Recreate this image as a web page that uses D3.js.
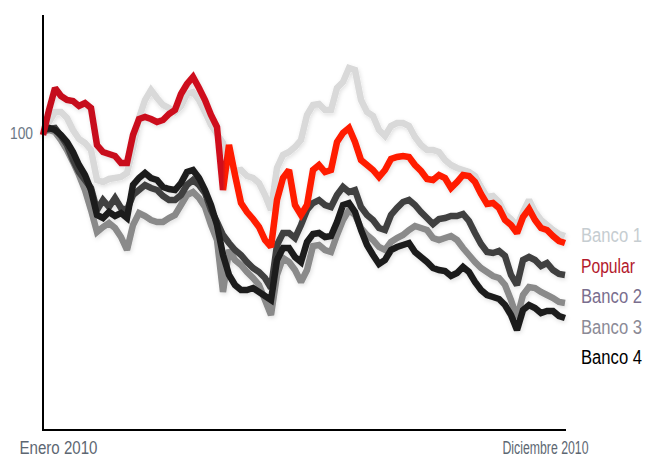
<!DOCTYPE html>
<html>
<head>
<meta charset="utf-8">
<script src="https://cdn.jsdelivr.net/npm/d3@7"></script>
<style>
  html, body { margin: 0; padding: 0; background: #fff; }
  svg { display: block; }
  .lbl { font-family: "Liberation Sans", Arial, sans-serif; }
</style>
</head>
<body>
<svg id="chart" width="646" height="459"></svg>
<script>
// ---- data (index relative to 100 at start of 2010), sampled through the year ----
const xLabels = ["Enero 2010", "Diciembre 2010"];
const yTicks = [100];
const seriesNames = ["Banco 1", "Popular", "Banco 2", "Banco 3", "Banco 4"];

const banco1 = [99.6,102.2,104.2,104.2,103.0,100.6,98.8,98.0,96.6,90.6,90.2,90.8,91.0,91.2,92.0,97.0,103.0,106.6,108.6,107.0,105.6,105.0,104.2,105.4,107.8,108.2,106.6,104.2,101.6,99.8,98.0,94.0,92.4,92.6,91.4,91.0,90.0,87.6,84.6,93.0,95.6,96.2,97.2,98.6,103.6,105.6,105.8,104.6,104.6,109.0,110.2,113.0,112.6,106.6,104.2,103.4,100.6,99.4,101.4,102.0,102.0,101.4,99.2,97.6,96.6,96.6,96.2,94.6,93.6,93.0,92.6,92.2,91.4,89.2,87.2,87.4,86.2,83.8,82.8,81.4,84.2,86.6,84.2,82.6,81.6,80.6,79.8,79.4];

const popular = [99.6,104.6,109.0,107.4,106.6,106.4,105.4,106.0,105.0,97.6,96.2,95.8,95.4,94.0,94.0,99.6,102.8,103.2,102.8,102.2,102.6,103.8,104.6,107.8,109.8,111.2,109.0,106.6,103.6,101.2,88.6,97.6,91.6,86.0,84.2,82.8,81.2,78.6,77.2,86.6,91.0,92.6,85.6,83.6,85.6,92.6,93.6,92.2,92.6,98.2,100.0,101.0,98.2,94.6,93.6,92.6,91.2,92.6,94.8,95.2,95.4,95.2,93.6,92.4,90.8,90.6,91.6,91.0,89.0,90.2,91.6,91.4,90.2,87.8,85.8,86.0,85.0,82.6,81.6,80.0,83.2,84.8,82.6,81.0,80.6,79.4,78.4,78.0];

const banco2 = [100.6,100.8,101.0,99.4,97.6,94.6,92.2,90.6,89.0,84.6,86.6,85.2,87.0,85.0,84.6,87.6,88.6,89.6,89.0,88.6,87.4,86.6,86.6,87.6,89.6,90.6,89.6,88.0,84.6,82.2,79.6,78.0,76.6,75.6,74.2,73.0,72.2,71.0,69.0,77.6,80.0,80.0,79.0,81.6,84.6,86.0,86.6,85.6,85.2,87.6,89.2,88.2,88.6,85.2,83.6,82.6,81.0,80.6,83.6,85.0,86.2,86.6,85.6,84.2,83.0,81.8,82.8,83.0,83.4,83.4,83.8,82.4,80.0,77.8,76.2,76.0,76.4,75.4,71.6,69.6,74.6,75.2,74.6,73.4,74.0,72.6,71.8,71.6];

const banco3 = [100.2,100.6,100.2,98.6,96.6,94.2,91.6,88.6,84.6,80.2,81.2,82.0,81.0,79.2,76.6,81.6,84.0,83.4,82.6,82.2,82.2,83.0,83.6,85.6,87.6,88.2,87.0,85.2,81.6,78.6,68.2,76.6,74.6,73.6,72.2,71.0,69.6,66.6,63.6,71.6,75.0,74.2,72.6,70.2,72.6,77.4,77.6,76.6,76.2,79.6,82.6,84.6,83.6,81.0,79.6,78.6,77.2,76.6,78.2,79.0,79.6,80.6,81.4,81.0,80.6,79.0,78.6,79.0,79.4,78.6,77.0,75.6,74.2,73.0,72.2,71.4,71.0,69.6,66.6,63.0,67.6,69.2,69.0,68.2,67.6,67.0,66.2,66.0];

const banco4 = [100.6,101.0,100.6,99.6,98.2,96.2,93.6,91.6,88.6,83.6,83.0,84.2,83.4,84.0,83.0,89.6,91.0,92.0,91.0,90.6,89.2,88.8,88.6,90.0,92.2,92.6,91.0,88.6,85.6,81.6,75.6,71.6,69.6,68.6,68.6,69.0,68.2,67.4,66.6,74.6,77.0,77.0,75.2,74.2,78.2,79.8,80.0,79.2,79.4,82.2,85.6,86.0,84.2,80.6,77.6,75.6,73.8,74.6,76.6,77.2,77.6,78.0,76.2,75.2,74.2,73.0,72.6,72.4,71.4,72.0,73.2,72.2,70.2,68.6,67.6,67.2,66.8,65.6,63.6,60.6,64.6,65.6,65.0,64.0,64.4,64.4,63.4,63.0];

const lineColors = { "Banco 1": "#d9d9d9", "Popular": "#ff1a00", "Banco 2": "#404040", "Banco 3": "#8a8a8a", "Banco 4": "#1c1c1c" };
const legendColors = { "Banco 1": "#c6cdd1", "Popular": "#b3192c", "Banco 2": "#7a6e8e", "Banco 3": "#8b8a96", "Banco 4": "#000000" };
const legendWidths = { "Banco 1": 61, "Popular": 54, "Banco 2": 61, "Banco 3": 61, "Banco 4": 61 };

const seriesData = { "Banco 1": banco1, "Popular": popular, "Banco 2": banco2, "Banco 3": banco3, "Banco 4": banco4 };

// ---- chart ----
const svg = d3.select("#chart");
const mLeft = 43, mRight = 565, mTop = 15, mBottom = 430;
const n = popular.length;

const x = d3.scaleLinear().domain([0, n - 1]).range([mLeft, mRight]);
const y = d3.scaleLinear().domain([40.6, 123.6]).range([mBottom, mTop]);

const defs = svg.append("defs");
const f = defs.append("filter").attr("id", "shadow").attr("x", "-10%").attr("y", "-10%").attr("width", "120%").attr("height", "130%");
f.append("feDropShadow").attr("dx", 1).attr("dy", 2).attr("stdDeviation", 2)
  .attr("flood-color", "#000").attr("flood-opacity", 0.12);

const grad = defs.append("linearGradient").attr("id", "popGrad")
  .attr("gradientUnits", "userSpaceOnUse")
  .attr("x1", mLeft).attr("x2", mRight).attr("y1", 0).attr("y2", 0);
const split = (x(30) - mLeft) / (mRight - mLeft);
grad.append("stop").attr("offset", 0).attr("stop-color", "#c4101f");
grad.append("stop").attr("offset", split).attr("stop-color", "#d0101c");
grad.append("stop").attr("offset", split + 0.005).attr("stop-color", "#ff1a00");
grad.append("stop").attr("offset", 1).attr("stop-color", "#ff1a00");

const line = d3.line().x((d, i) => x(i)).y(d => y(d)).curve(d3.curveLinear);

const drawOrder = ["Banco 1", "Banco 3", "Banco 2", "Banco 4", "Popular"];
const g = svg.append("g").attr("filter", "url(#shadow)");
g.selectAll("path.series").data(drawOrder).join("path")
  .attr("class", "series")
  .attr("d", name => line(seriesData[name]))
  .attr("fill", "none")
  .attr("stroke", name => name === "Popular" ? "url(#popGrad)" : lineColors[name])
  .attr("stroke-width", 6.5)
  .attr("stroke-linejoin", "miter")
  .attr("stroke-miterlimit", 2);

// axes
const yAxis = d3.axisLeft(y).tickValues(yTicks).tickSize(0).tickPadding(10).tickFormat(d3.format("d"));
const ya = svg.append("g").attr("transform", `translate(${mLeft},0)`).call(yAxis);
ya.select(".domain").remove();
ya.selectAll("text").attr("class", "lbl").attr("font-size", 16).attr("fill", "#6b7785")
  .attr("textLength", 23).attr("lengthAdjust", "spacingAndGlyphs");

svg.append("line").attr("x1", mLeft).attr("x2", mLeft).attr("y1", mTop).attr("y2", mBottom + 1)
  .attr("stroke", "#000").attr("stroke-width", 2);
svg.append("line").attr("x1", mLeft - 1).attr("x2", mRight + 1).attr("y1", mBottom).attr("y2", mBottom)
  .attr("stroke", "#000").attr("stroke-width", 2);

const xa = d3.axisBottom(x).tickValues([0, n - 1]).tickSize(0).tickPadding(11)
  .tickFormat((d, i) => xLabels[i]);
const xg = svg.append("g").attr("transform", `translate(0,${mBottom})`).call(xa);
xg.select(".domain").remove();
xg.selectAll("text").attr("class", "lbl").attr("font-size", 18).attr("fill", "#5d6772")
  .attr("text-anchor", (d, i) => i === 0 ? "start" : "end")
  .attr("dx", (d, i) => i === 0 ? -24 : 23)
  .attr("textLength", (d, i) => i === 0 ? 78 : 86)
  .attr("lengthAdjust", "spacingAndGlyphs");

// legend labels at right (tall, condensed lettering)
const legendY = d3.scalePoint().domain(seriesNames).range([242, 364]);
svg.selectAll("text.leg").data(seriesNames).join("text")
  .attr("class", "leg lbl")
  .attr("transform", d => `translate(581,${legendY(d)}) scale(1,1.2)`)
  .attr("font-size", 17.5)
  .attr("fill", d => legendColors[d])
  .attr("textLength", d => legendWidths[d])
  .attr("lengthAdjust", "spacingAndGlyphs")
  .text(d => d);
</script>
</body>
</html>
